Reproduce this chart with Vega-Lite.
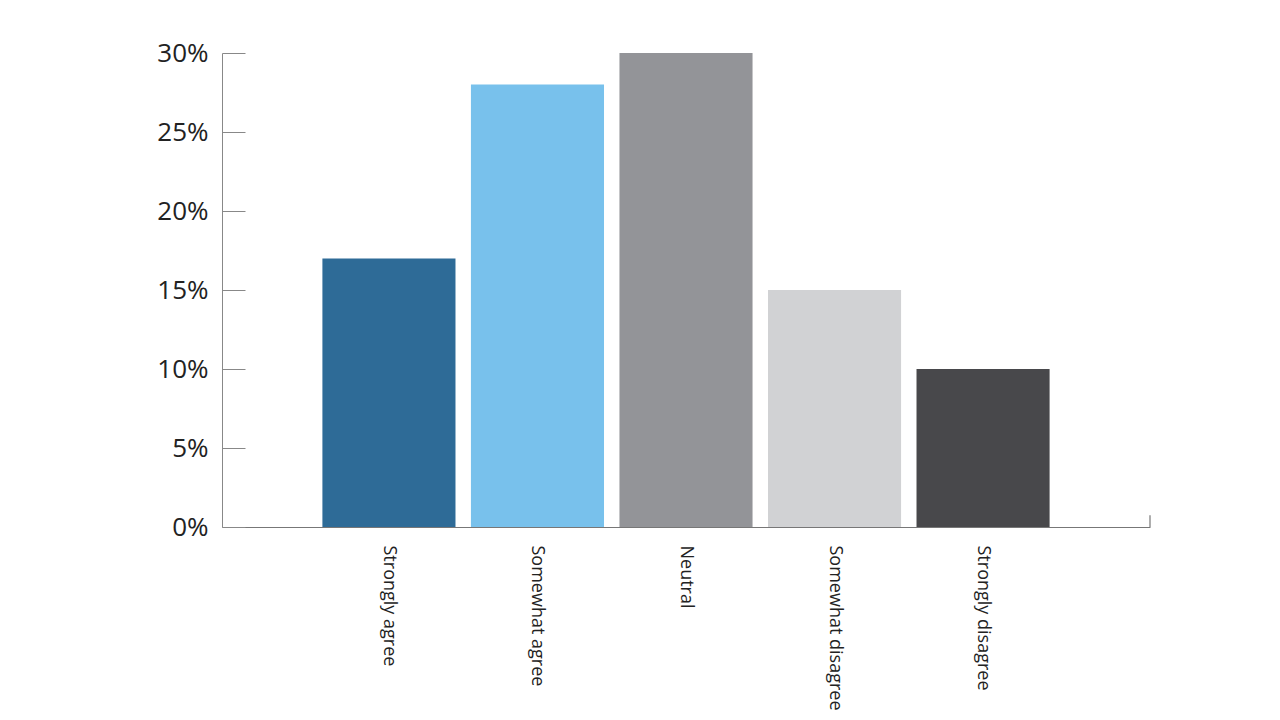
{
  "$schema": "https://vega.github.io/schema/vega-lite/v6.json",
  "width": 928,
  "height": 474,
  "autosize": "none",
  "padding": {"left": 222, "top": 53, "right": 130, "bottom": 193},
  "background": "white",
  "config": {"view": {"stroke": null}},
  "data": {"values": [
    {"response": "Strongly agree", "share": 0.17},
    {"response": "Somewhat agree", "share": 0.28},
    {"response": "Neutral", "share": 0.30},
    {"response": "Somewhat disagree", "share": 0.15},
    {"response": "Strongly disagree", "share": 0.10}
  ]},
  "layer": [
    {
      "mark": {"type": "bar"},
      "encoding": {
        "x": {
          "field": "response", "type": "nominal", "sort": null,
          "scale": {"paddingInner": 0.104, "paddingOuter": 0.676},
          "axis": {
            "title": null, "labelAngle": 90, "labelAlign": "left", "labelBaseline": "middle",
            "ticks": false, "labelPadding": 18, "labelFont": "Open Sans", "labelFontSize": 18,
            "labelColor": "#222222", "domainColor": "#777777", "domainWidth": 1.2
          }
        },
        "y": {
          "field": "share", "type": "quantitative",
          "scale": {"domain": [0, 0.3]},
          "axis": {
            "title": null, "format": ".0%", "values": [0, 0.05, 0.1, 0.15, 0.2, 0.25, 0.3],
            "grid": false, "tickSize": -23, "tickColor": "#888888", "domainColor": "#888888",
            "labelFont": "Open Sans", "labelFontSize": 26, "labelColor": "#222222", "labelPadding": 37
          }
        },
        "color": {
          "field": "response", "type": "nominal", "sort": null, "legend": null,
          "scale": {
            "domain": ["Strongly agree", "Somewhat agree", "Neutral", "Somewhat disagree", "Strongly disagree"],
            "range": ["#2e6b97", "#78c1ec", "#939498", "#d1d2d4", "#48484b"]
          }
        }
      }
    },
    {
      "data": {"values": [{"a": 0, "b": 0.0075}]},
      "mark": {"type": "rule", "color": "#777777", "strokeWidth": 1.2},
      "encoding": {
        "x": {"value": {"expr": "width"}},
        "y": {"field": "a", "type": "quantitative"},
        "y2": {"field": "b"}
      }
    }
  ]
}
